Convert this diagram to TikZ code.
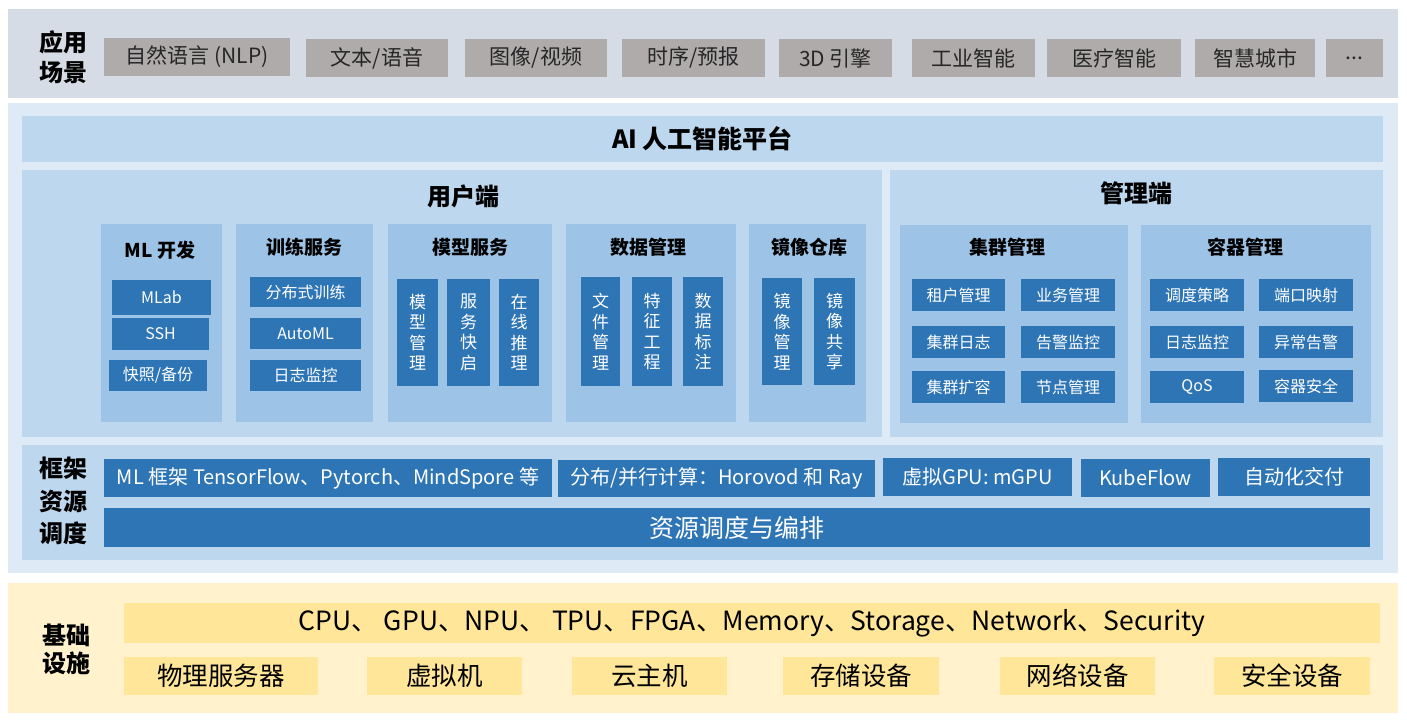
\documentclass[tikz,border=0pt]{standalone}
\usepackage{fontspec}
\setmainfont{Noto Sans CJK SC}
\usepackage{xcolor}
\usetikzlibrary{positioning}
\definecolor{scenebg}{HTML}{D6DCE5}
\definecolor{scenetag}{HTML}{AFABAB}
\definecolor{platbg}{HTML}{DEEBF7}
\definecolor{panelbg}{HTML}{BDD7EE}
\definecolor{groupbg}{HTML}{9DC3E6}
\definecolor{blkblue}{HTML}{2E75B6}
\definecolor{infrabg}{HTML}{FFF2CC}
\definecolor{infrabar}{HTML}{FFE699}
\begin{document}
\begin{tikzpicture}[
  x=1pt,y=-1pt,
  wh/.style 2 args={minimum width=#1,minimum height=#2},
  area/.style={anchor=north west,inner sep=0pt,outer sep=0pt},
  side/.style={align=center,font=\fontsize{24}{30}\selectfont\bfseries},
  tag/.style={area,fill=scenetag,text=black!85,font=\fontsize{21}{25}\selectfont},
  head/.style={font=\fontsize{24}{28}\selectfont\bfseries},
  grptitle/.style={font=\fontsize{19}{23}\selectfont\bfseries},
  grp/.style={area,fill=groupbg},
  item/.style={area,fill=blkblue,text=white,font=\fontsize{16}{20}\selectfont},
  vitem/.style={item,align=center,font=\fontsize{17}{20.5}\selectfont},
  frame/.style={area,fill=blkblue,text=white,font=\fontsize{20}{24}\selectfont},
  infra/.style={area,fill=infrabar,text=black,font=\fontsize{25.5}{30}\selectfont}
]
\useasboundingbox[fill=white] (0,0) rectangle (1407,720);

\node[area,fill=scenebg,wh={1390}{89}] (scene-bg) at (8,9) {};
\node[side] (scene-lbl) at (63,57) {应用\\场景};
\node[tag,wh={186}{38}] (nlp) at (104,38) {自然语言 (NLP)};
\node[tag,wh={142}{38}] (text-voice) at (306,39) {文本/语音};
\node[tag,wh={142}{38}] (img-video) at (465,39) {图像/视频};
\node[tag,wh={143}{38}] (series) at (622,39) {时序/预报};
\node[tag,wh={113}{38}] (engine) at (779,39) {3D 引擎};
\node[tag,wh={123}{38}] (industry) at (912,39) {工业智能};
\node[tag,wh={134}{38}] (medical) at (1047,39) {医疗智能};
\node[tag,wh={120}{38}] (city) at (1195,39) {智慧城市};
\node[tag,wh={57}{38}] (more) at (1326,39) {...};

\node[area,fill=platbg,wh={1390}{470}] (plat-bg) at (8,103) {};
\node[area,fill=panelbg,wh={1361}{46},head,font=\fontsize{25}{30}\selectfont\bfseries] (ai-plat) at (22,116) {AI 人工智能平台};
\node[side] (plat-lbl) at (63,313) {平台\\功能};
\node[area,fill=panelbg,wh={860}{267}] (user-panel) at (22,170) {};
\node[head] (user-title) at (463,196) {用户端};
\node[area,fill=panelbg,wh={493}{267}] (admin-panel) at (890,170) {};
\node[head] (admin-title) at (1136,193) {管理端};

\node[grp,wh={121}{198}] (ml-dev) at (101,224) {};
\node[grptitle] (ml-dev-t) at (160,250) {ML 开发};
\node[item,wh={99}{35}] (mlab) at (112,280) {MLab};
\node[item,wh={97}{32}] (ssh) at (112,318) {SSH};
\node[item,wh={98}{31}] (snapshot) at (109,360) {快照/备份};

\node[grp,wh={137}{198}] (train) at (236,224) {};
\node[grptitle] (train-t) at (304,247) {训练服务};
\node[item,wh={111}{30}] (dist-train) at (250,277) {分布式训练};
\node[item,wh={111}{31}] (automl) at (250,318) {AutoML};
\node[item,wh={111}{31}] (train-log) at (250,360) {日志监控};

\node[grp,wh={164}{198}] (model) at (388,224) {};
\node[grptitle] (model-t) at (470,247) {模型服务};
\node[vitem,wh={41}{107}] (model-mgmt) at (397,279) {模\\型\\管\\理};
\node[vitem,wh={43}{107}] (svc-start) at (447,279) {服\\务\\快\\启};
\node[vitem,wh={40}{107}] (online-inf) at (499,279) {在\\线\\推\\理};

\node[grp,wh={170}{198}] (data) at (566,224) {};
\node[grptitle] (data-t) at (648,247) {数据管理};
\node[vitem,wh={39}{109}] (file-mgmt) at (581,277) {文\\件\\管\\理};
\node[vitem,wh={40}{109}] (feature) at (632,277) {特\\征\\工\\程};
\node[vitem,wh={40}{109}] (label) at (683,277) {数\\据\\标\\注};

\node[grp,wh={117}{198}] (repo) at (749,224) {};
\node[grptitle] (repo-t) at (809,247) {镜像仓库};
\node[vitem,wh={40}{107}] (img-mgmt) at (762,278) {镜\\像\\管\\理};
\node[vitem,wh={41}{107}] (img-share) at (814,278) {镜\\像\\共\\享};

\node[grp,wh={228}{198}] (cluster) at (900,225) {};
\node[grptitle] (cluster-t) at (1007,247) {集群管理};
\node[item,wh={93}{32}] (tenant) at (912,279) {租户管理};
\node[item,wh={94}{32}] (business) at (1021,279) {业务管理};
\node[item,wh={93}{32}] (cluster-log) at (912,326) {集群日志};
\node[item,wh={94}{32}] (alarm-mon) at (1021,326) {告警监控};
\node[item,wh={93}{32}] (scale) at (912,371) {集群扩容};
\node[item,wh={94}{32}] (node-mgmt) at (1021,371) {节点管理};

\node[grp,wh={230}{198}] (container) at (1141,225) {};
\node[grptitle] (container-t) at (1245,247) {容器管理};
\node[item,wh={94}{32}] (policy) at (1150,279) {调度策略};
\node[item,wh={94}{32}] (port-map) at (1259,279) {端口映射};
\node[item,wh={94}{32}] (ctr-log) at (1150,326) {日志监控};
\node[item,wh={94}{32}] (anomaly) at (1259,326) {异常告警};
\node[item,wh={94}{32}] (qos) at (1150,371) {QoS};
\node[item,wh={94}{32}] (ctr-sec) at (1259,370) {容器安全};

\node[area,fill=panelbg,wh={1361}{115}] (fw-panel) at (22,445) {};
\node[side,font=\fontsize{24}{32.5}\selectfont\bfseries] (fw-lbl) at (63,501) {框架\\资源\\调度};
\node[frame,wh={448}{38}] (ml-frame) at (104,459) {ML 框架 TensorFlow、Pytorch、MindSpore 等};
\node[frame,wh={317}{37}] (dist-comp) at (558,460) {分布/并行计算：Horovod 和 Ray};
\node[frame,wh={189}{38}] (vgpu) at (883,458) {虚拟GPU: mGPU};
\node[frame,wh={129}{38}] (kubeflow) at (1081,459) {KubeFlow};
\node[frame,wh={152}{38}] (delivery) at (1218,458) {自动化交付};
\node[frame,wh={1266}{39},font=\fontsize{25}{30}\selectfont] (sched) at (104,508) {资源调度与编排};

\node[area,fill=infrabg,wh={1390}{130}] (infra-bg) at (8,583) {};
\node[side,font=\fontsize{24}{28}\selectfont\bfseries] (infra-lbl) at (66,649) {基础\\设施};
\node[infra,wh={1256}{40},font=\fontsize{26.5}{30}\selectfont] (res-bar) at (124,603) {CPU、 GPU、NPU、 TPU、FPGA、Memory、Storage、Network、Security};
\node[infra,wh={194}{38}] (phys) at (124,657) {物理服务器};
\node[infra,wh={155}{38}] (vm) at (367,657) {虚拟机};
\node[infra,wh={155}{38}] (cloud) at (572,657) {云主机};
\node[infra,wh={156}{38}] (storage) at (783,657) {存储设备};
\node[infra,wh={155}{38}] (network) at (1000,657) {网络设备};
\node[infra,wh={156}{38}] (security) at (1214,657) {安全设备};
\end{tikzpicture}
\end{document}
